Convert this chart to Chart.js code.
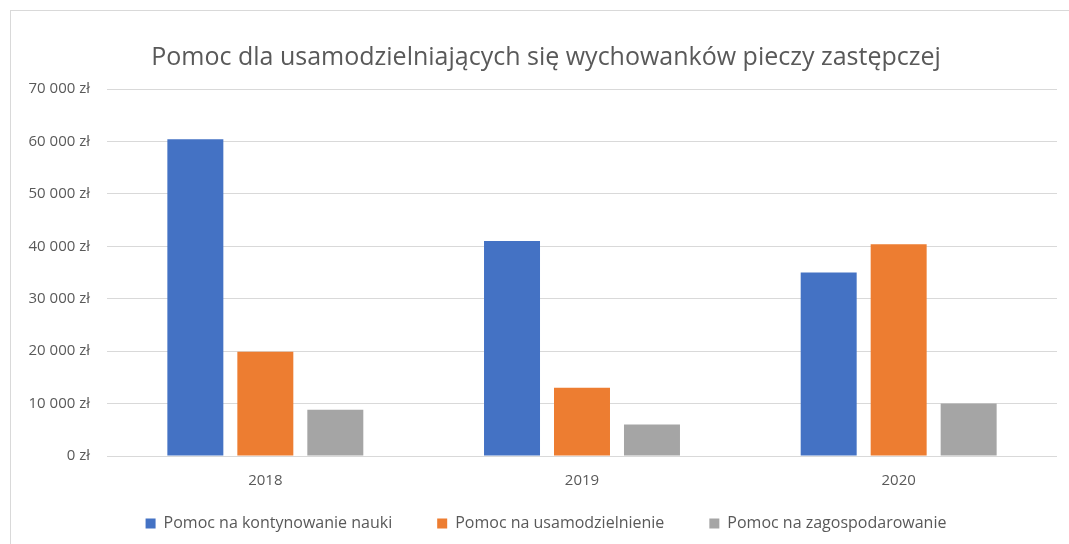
<!DOCTYPE html>
<html>
<head>
<meta charset="utf-8">
<script src="https://cdn.jsdelivr.net/npm/chart.js@4"></script>
<style>
  html, body { margin: 0; padding: 0; background: #fff; overflow: hidden; }
  #frame {
    position: absolute; left: 10px; top: 10px;
    width: 1070px; height: 545px;
    border: 1px solid #d9d9d9;
  }
</style>
</head>
<body>
<div id="frame"><canvas id="chart" width="1070" height="545"></canvas></div>
<script>
// Chart data
const years = ['2018', '2019', '2020'];
const seriesNames = [
  'Pomoc na kontynowanie nauki',
  'Pomoc na usamodzielnienie',
  'Pomoc na zagospodarowanie'
];
const nauka = [60400, 41000, 35000];
const usamodzielnienie = [19900, 13000, 40400];
const zagospodarowanie = [8800, 6000, 10000];
const seriesColors = ['#4472C4', '#ED7D31', '#A5A5A5'];

const titleText = 'Pomoc dla usamodzielniających się wychowanków pieczy zastępczej';
const textColor = '#595959';
const gridColor = '#d9d9d9';
const fontFamily = '"Open Sans", sans-serif';

// "70000" -> "70 000 zł"
function zl(v) {
  return String(v).replace(/\B(?=(\d{3})+(?!\d))/g, ' ') + ' zł';
}

const values = [nauka, usamodzielnienie, zagospodarowanie];

new Chart(document.getElementById('chart'), {
  type: 'bar',
  data: {
    labels: years,
    datasets: values.map((data, i) => ({
      label: seriesNames[i],
      data,
      backgroundColor: seriesColors[i],
      borderWidth: 0,
      categoryPercentage: 0.663,
      barPercentage: 0.8
    }))
  },
  options: {
    responsive: false,
    animation: false,
    layout: { padding: { left: 0, right: 0, top: 32, bottom: 14.5 } },
    plugins: {
      title: {
        display: true,
        text: titleText,
        color: textColor,
        font: { family: fontFamily, size: 25, weight: 'normal' },
        padding: { top: 0, bottom: 16 }
      },
      legend: {
        position: 'bottom',
        labels: {
          color: textColor,
          font: { family: fontFamily, size: 16 },
          boxWidth: 10,
          boxHeight: 10,
          padding: 45
        }
      },
      tooltip: { enabled: false }
    },
    scales: {
      x: {
        // labels are mirrored so they are not clipped to the thin axis box
        afterFit: (axis) => { axis.height = 14.5; },
        grid: { display: false, drawTicks: false },
        border: { display: false },
        ticks: {
          color: textColor,
          font: { family: fontFamily, size: 15 },
          mirror: true,
          padding: -34
        }
      },
      y: {
        min: 0,
        max: 70000,
        afterFit: (axis) => { axis.width = 96; },
        grid: { color: gridColor, lineWidth: 1, drawTicks: false },
        border: { display: false },
        ticks: {
          stepSize: 10000,
          color: textColor,
          font: { family: fontFamily, size: 15 },
          padding: 17,
          callback: (v) => zl(v)
        }
      },
      // empty right-hand space so title and legend centre like the original
      yRight: {
        position: 'right',
        afterFit: (axis) => { axis.width = 24; },
        grid: { display: false, drawTicks: false },
        border: { display: false },
        ticks: { display: false }
      }
    }
  }
});
</script>
</body>
</html>
